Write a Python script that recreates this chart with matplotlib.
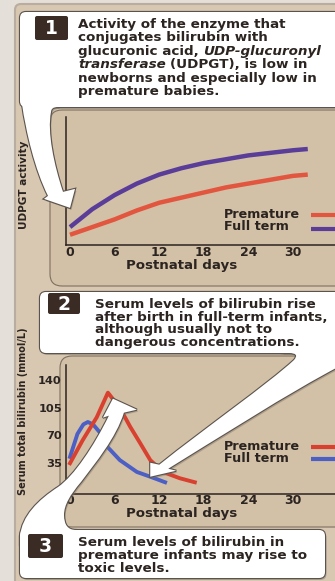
import matplotlib.pyplot as plt
from matplotlib.patches import FancyBboxPatch, PathPatch
from matplotlib.path import Path
from matplotlib.transforms import Affine2D
import numpy as np

plt.rcParams['font.family'] = ['DejaVu Sans']
plt.rcParams['font.weight'] = 'bold'
plt.rcParams['axes.labelweight'] = 'bold'

# Canvas size in pixels (saved at 100 dpi).
W, H = 335, 581

# Panel 1: UDPGT activity (relative units) by postnatal day.
udpgt_days = [0, 3, 6, 9, 12, 15, 18, 21, 24, 27, 30, 32]
udpgt_full_term = [14, 28, 39, 48, 55, 60, 64, 67, 70, 72, 74, 75]
udpgt_premature = [8, 14, 20, 27, 33, 37, 41, 45, 48, 51, 54, 55]

# Panel 2: serum total bilirubin (mmol/L) by postnatal day.
full_term_days = [0, 1, 1.8, 2.4, 3.1, 4.0, 5.1, 6.7, 9.0, 10.8, 12.8]
full_term_bilirubin = [43, 72, 84, 87, 84, 74, 55, 39, 24, 18, 11]
premature_days = [0, 1.7, 3.6, 5.1, 6.7, 8.1, 9.4, 10.8, 12.5, 14.8, 16.8]
premature_bilirubin = [35, 64, 93, 124, 105, 81, 61, 39, 24, 16, 11]

day_ticks = [0, 6, 12, 18, 24, 30]
bilirubin_ticks = [0, 35, 70, 105, 140]
series_names = ['Premature', 'Full term']

# Callout notes, one list entry per line: (text, font style) pieces.
note_1 = [
    [('Activity of the enzyme that', 'normal')],
    [('conjugates bilirubin with', 'normal')],
    [('glucuronic acid,', 'normal'), ('UDP-glucuronyl', 'italic')],
    [('transferase', 'italic'), ('(UDPGT), is low in', 'normal')],
    [('newborns and especially low in', 'normal')],
    [('premature babies.', 'normal')],
]
note_2 = [
    [('Serum levels of bilirubin rise', 'normal')],
    [('after birth in full-term infants,', 'normal')],
    [('although usually not to', 'normal')],
    [('dangerous concentrations.', 'normal')],
]
note_3 = [
    [('Serum levels of bilirubin in', 'normal')],
    [('premature infants may rise to', 'normal')],
    [('toxic levels.', 'normal')],
]

ink = '#2b2420'
red_1, purple_1 = '#e2553f', '#5a3d98'
red_2, blue_2 = '#d8412f', '#4c5fc4'


def frame(left, top, right, bottom):
    # Axes rectangle from pixel edges (y measured from the top).
    return [left / W, 1 - bottom / H, (right - left) / W, (bottom - top) / H]


def sketch_path(steps):
    verts, codes = [], []
    kinds = {'M': Path.MOVETO, 'L': Path.LINETO,
             'Q': Path.CURVE3, 'C': Path.CURVE4}
    for step in steps:
        for p in step[1:]:
            verts.append(tuple(p))
            codes.append(kinds[step[0]])
    verts.append(verts[0])
    codes.append(Path.CLOSEPOLY)
    return Path(verts, codes)


fig = plt.figure(figsize=(W / 100, H / 100), dpi=100)
fig.patch.set_facecolor('#e4dfd8')

# Pixel-space layers behind and in front of the charts.
bg = fig.add_axes([0, 0, 1, 1], zorder=0)
ov = fig.add_axes([0, 0, 1, 1], zorder=5)
for layer in (bg, ov):
    layer.set_xlim(0, W)
    layer.set_ylim(H, 0)
    layer.axis('off')

# Page background and the two chart cards.
bg.add_patch(FancyBboxPatch((15, 4), 340, 600, boxstyle='round,pad=0,rounding_size=6',
                            facecolor='#d8c8b2', edgecolor='#b8ada0', lw=1.5))
for (x, y, w, h) in [(50, 110, 300, 176), (60, 356, 290, 171)]:
    bg.add_patch(FancyBboxPatch((x, y), w, h, boxstyle='round,pad=0,rounding_size=12',
                                facecolor='#d3c1a7', edgecolor='#7d6f60', lw=0.8))

# Chart axes.
ax1 = fig.add_axes(frame(66, 117, 336, 245), zorder=1)
ax2 = fig.add_axes(frame(66, 365, 336, 494), zorder=1)
for ax in (ax1, ax2):
    ax.patch.set_visible(False)
    ax.spines[['top', 'right']].set_visible(False)
    for side in ('left', 'bottom'):
        ax.spines[side].set_color(ink)
        ax.spines[side].set_linewidth(1.1)
    ax.set_xlim(-0.54, 35.8)
    ax.set_xticks(day_ticks)
    ax.tick_params(length=0, labelsize=9, labelcolor=ink)
    ax.set_xlabel('Postnatal days', fontsize=9.6, color=ink, va='center')

ax1.set_ylim(0, 100)
ax1.set_yticks([])
ax1.tick_params(axis='x', pad=0.5)
ax1.plot(udpgt_days, udpgt_full_term, color=purple_1, lw=3.2, solid_capstyle='butt')
ax1.plot(udpgt_days, udpgt_premature, color=red_1, lw=3.2, solid_capstyle='butt')
ax1.set_ylabel('UDPGT activity', fontsize=7.6, color=ink, va='center')
ax1.yaxis.set_label_coords((24 - 66) / 270, (245 - 185) / 128)
ax1.xaxis.set_label_coords((182 - 66) / 270, (245 - 265) / 128)

ax2.set_ylim(-3.8, 158.9)
ax2.set_yticks(bilirubin_ticks)
ax2.tick_params(axis='x', pad=0)
ax2.tick_params(axis='y', pad=3, labelsize=8.2)
ax2.plot(full_term_days, full_term_bilirubin, color=blue_2, lw=2.8)
ax2.plot(premature_days, premature_bilirubin, color=red_2, lw=2.8)
ax2.set_ylabel('Serum total bilirubin (mmol/L)', fontsize=7, color=ink, va='center')
ax2.yaxis.set_label_coords((23 - 66) / 270, (494 - 411) / 129)
ax2.xaxis.set_label_coords((182 - 66) / 270, (494 - 513) / 129)

# Legends: label on the left, colour swatch running off the right edge.
for ax, top, height, rows, colors in [
        (ax1, 117, 128, [(215, 215), (227, 229)], (red_1, purple_1)),
        (ax2, 365, 129, [(446, 447), (458, 459)], (red_2, blue_2))]:
    bottom = top + height
    for name, (ty, ly), color in zip(series_names, rows, colors):
        ax.text((224 - 66) / 270, (bottom - ty) / height, name, transform=ax.transAxes,
                fontsize=9.2, color=ink, va='center', ha='left')
        ax.plot([(311 - 66) / 270, 1.05], [(bottom - ly) / height] * 2,
                transform=ax.transAxes, color=color, lw=3, clip_on=False,
                solid_capstyle='butt')


def to_px(ax, x, y):
    return ov.transData.inverted().transform(ax.transData.transform((x, y)))


# Arrow tips point at the data they describe.
t1 = to_px(ax1, 0, 29)
t2 = to_px(ax2, full_term_days[9], full_term_bilirubin[9])
peak = int(np.argmax(premature_bilirubin))
t3 = to_px(ax2, premature_days[peak], premature_bilirubin[peak]) + (5, 6)

arrow_1 = sketch_path([
    ('M', (22, 95)), ('L', (22, 104)),
    ('C', (26, 132), (35, 170), t1 + (-22, -12)),
    ('L', t1 + (-26, -9)), ('L', t1), ('L', t1 + (5, -19)), ('L', t1 + (-7, -16)),
    ('C', (54, 165), (47, 132), (51, 112)),
    ('Q', (51, 107), (58, 107)), ('L', (60, 95)),
])
arrow_2 = sketch_path([
    ('M', (282, 345)), ('L', (282, 353)), ('L', (289, 353)),
    ('Q', (300, 353), (294, 360)),
    ('C', (268, 384), (205, 428), t2 + (9, -12)),
    ('L', t2 + (0, -14)), ('L', t2), ('L', t2 + (26, -6)), ('L', t2 + (18, -8)),
    ('C', (215, 440), (290, 392), (340, 366)), ('L', (340, 345)),
])
arrow_3 = sketch_path([
    ('M', (20, 545)), ('L', (20, 536)),
    ('C', (22, 516), (38, 500), (58, 487)),
    ('C', (74, 476), (94, 446), t3 + (-4, 17)),
    ('L', t3 + (-10, 19)), ('L', t3), ('L', t3 + (24, 11)), ('L', t3 + (11, 14)),
    ('C', (116, 438), (96, 462), (81, 482)),
    ('C', (70, 495), (64, 505), (64, 515)),
    ('Q', (64, 530), (76, 530)), ('L', (76, 545)),
])

boxes = [(20, 12, 330, 95), (40, 292, 310, 61), (20, 530, 305, 48)]
shapes = boxes + [arrow_1, arrow_2, arrow_3]


def make_patch(shape, dx=0, dy=0, **kw):
    if isinstance(shape, Path):
        return PathPatch(shape.transformed(Affine2D().translate(dx, dy)), **kw)
    x, y, w, h = shape
    return FancyBboxPatch((x + dx, y + dy), w, h,
                          boxstyle='round,pad=0,rounding_size=6', **kw)


# Shadow, outline, then fill so boxes and arrows merge into one callout.
for shape in shapes:
    ov.add_patch(make_patch(shape, 1.5, 2, facecolor='#7f7468', edgecolor='none',
                            alpha=0.45, zorder=1))
for shape in shapes:
    ov.add_patch(make_patch(shape, facecolor='white', edgecolor='#5b534d',
                            lw=1.6, zorder=2))
for shape in shapes:
    ov.add_patch(make_patch(shape, facecolor='white', edgecolor='none', zorder=3))

# Numbered badges.
for label, (x, y, w, h) in zip('123', [(35, 16, 33, 24), (48, 293, 32, 21),
                                       (28, 534, 35, 24)]):
    ov.add_patch(FancyBboxPatch((x, y), w, h, boxstyle='round,pad=0,rounding_size=2',
                                facecolor='#3a2b24', edgecolor='none', zorder=4))
    ov.text(x + w / 2, y + h / 2 + 1, label, color='white', fontsize=13.5,
            ha='center', va='center', zorder=5)

renderer = fig.canvas.get_renderer()


def write_note(lines, x, first_y, step, size=9.7):
    for i, parts in enumerate(lines):
        cx = x
        for text, style in parts:
            t = ov.text(cx, first_y + i * step + 4.5, text, fontsize=size,
                        fontstyle=style, color=ink, ha='left', va='baseline', zorder=5)
            cx += t.get_window_extent(renderer).width + 4.7


write_note(note_1, 78, 23.5, 13.4)
write_note(note_2, 95, 304, 12.5)
write_note(note_3, 78, 541, 13)

fig.savefig('out.png', dpi=100)
